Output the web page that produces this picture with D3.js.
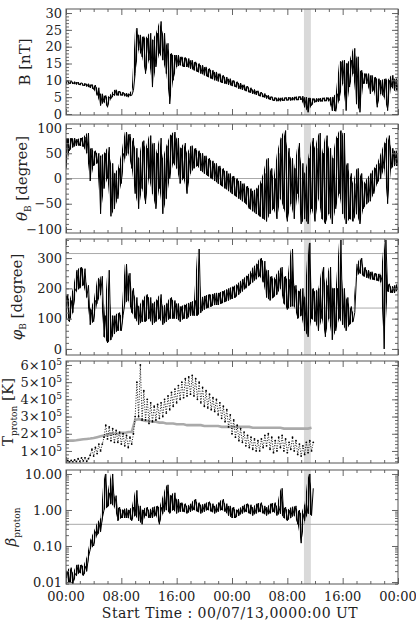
<!DOCTYPE html>
<html>
<head>
<meta charset="utf-8">
<script src="https://cdn.jsdelivr.net/npm/d3@7"></script>
<style>
  body { margin: 0; background: #fff; }
  svg { display: block; }
  text { font-family: "DejaVu Serif", serif; fill: #222; }
</style>
</head>
<body>
<script>
// hours between two samples of every series (series start at 00:00)
const STEP = 0.5;

const hourTicks = [0, 8, 16, 24, 32, 40, 48];
const hourLabels = ["00:00", "08:00", "16:00", "00:00", "08:00", "16:00", "00:00"];
const bandHours = [34.4, 35.4];

// B [nT], low / high value of each half hour
const bLo = [9.0, 9.0, 8.9, 8.8, 8.6, 8.4, 8.2, 7.8, 7.3, 5.5, 2.5, 3.5, 2.0, 4.5, 5.5, 5.5, 5.5, 5.3, 5.0, 5.5,
  12, 19, 17, 12, 16, 8, 14, 18, 16, 12, 3, 10, 14, 14.5, 14, 14, 13.5, 13, 12.5, 12,
  11.5, 11, 10.5, 10, 9.7, 9.3, 9, 8.7, 8.3, 8, 7.5, 7.2, 6.8, 6.4, 6.0, 5.7, 5.3, 5.0, 4.6, 4.2,
  3.9, 3.8, 3.8, 3.9, 4.0, 4.0, 4.1, 4.1, 4.2, 2.0, 0.5, 2.5, 3.5, 3.6, 3.7, 3.8, 3.8, 1.0, 0.8, 4.0,
  9, 1, 8, 12, 3, 0.5, 9, 9, 6, 7, 2, 6, 5, 1, 8, 7, 7];
const bHi = [10.0, 9.8, 9.6, 9.5, 9.3, 9.1, 9.0, 8.8, 8.6, 7.8, 6.0, 5.5, 5.0, 6.0, 7.2, 6.8, 6.5, 6.2, 6.0, 7.0,
  25.5, 23.5, 23, 22.5, 24, 22, 24, 27.5, 24, 21, 18, 17.5, 17.5, 17, 16.8, 16.5, 16, 15.5, 15, 14.5,
  14, 13.5, 13, 12.5, 12, 11.5, 11, 10.5, 10, 9.6, 9.2, 8.7, 8.3, 7.8, 7.3, 6.9, 6.5, 6.1, 5.6, 5.2,
  4.9, 4.8, 4.8, 4.9, 5.0, 5.0, 5.1, 5.2, 5.3, 5.0, 4.8, 4.6, 4.6, 4.7, 4.8, 4.9, 4.9, 5.0, 6.0, 15.5,
  16, 15, 16, 19.5, 17, 13, 12, 12, 11.5, 11, 10.5, 10, 10.5, 10, 11.5, 10.5, 8.5];

// theta_B [degree]
const thLo = [20, 55, 62, 65, 65, 63, 50, -5, 25, 30, -70, -20, 0, -75, -60, -40, -10, 40, 50, 20,
  -30, -60, -20, -50, 0, -30, -60, -20, -70, -40, 0, 30, 20, -10, 0, -30, 10, 20, 25, 15,
  10, 5, 0, -5, -10, -15, -20, -25, -30, -35, -40, -45, -50, -60, -65, -70, -75, -80, -85, -70,
  -60, -80, -40, -60, -85, -50, -80, -30, -90, -80, -90, -60, -85, -40, -80, -90, -70, -90, -60, -30,
  -70, -90, -80, -85, -70, -90, -60, -50, -45, -30, -10, 0, 20, -50, 20, 25, 25];
const thHi = [80, 80, 80, 78, 80, 82, 90, 60, 55, 50, 45, 50, 62, 30, 10, 20, 50, 92, 88, 80,
  60, 40, 75, 60, 85, 70, 50, 80, 40, 65, 85, 92, 80, 60, 70, 50, 65, 60, 55, 50,
  45, 40, 35, 30, 25, 20, 15, 10, 5, 0, -5, -10, -15, -20, -25, -20, -10, 10, 40, 20,
  0, 50, 80, 95, 60, 40, 20, 70, 30, 10, 40, 80, 60, 90, 50, 85, 60, 40, 80, 95,
  90, 30, 10, -10, 20, 10, -10, 0, 10, 20, 30, 50, 70, 85, 60, 55, 50];

// phi_B [degree]
const phLo = [100, 90, 120, 190, 200, 210, 170, 80, 90, 150, 180, 40, 20, 30, 50, 60, 60, 150, 160, 120,
  100, 80, 90, 90, 100, 80, 90, 100, 80, 90, 100, 100, 100, 90, 100, 100, 110, 110, 110, 120,
  130, 135, 140, 145, 145, 150, 155, 160, 165, 170, 180, 190, 200, 210, 220, 230, 240, 220, 170, 160,
  170, 180, 200, 150, 130, 140, 140, 100, 110, 60, 40, 100, 90, 60, 100, 40, 100, 30, 60, 100,
  80, 60, 80, 90, 240, 250, 240, 235, 230, 228, 225, 220, 0, 190, 185, 185, 195];
const phHi = [180, 160, 200, 260, 270, 265, 210, 130, 160, 230, 240, 110, 260, 110, 110, 120, 110, 280, 250, 200,
  170, 140, 160, 180, 170, 150, 160, 180, 140, 150, 170, 160, 150, 140, 145, 150, 155, 160, 330, 170,
  175, 180, 180, 185, 185, 190, 195, 200, 205, 210, 220, 230, 240, 250, 270, 280, 300, 290, 260, 240,
  230, 250, 270, 240, 230, 330, 210, 190, 200, 170, 350, 200, 190, 200, 270, 210, 270, 200, 200, 360,
  200, 170, 140, 120, 280, 300, 270, 260, 255, 250, 248, 245, 360, 215, 205, 210, 215];

// T_proton [10^5 K], measured (black) and expected (grey)
const tLo = [0.35, 0.36, 0.37, 0.38, 0.40, 0.42, 0.40, 0.75, 0.7, 0.85, 1.0, 1.8, 1.7, 1.6, 1.5, 1.5, 1.4, 1.3, 1.2, 1.4,
  3.0, 3.0, 2.8, 2.8, 2.6, 2.7, 2.8, 2.9, 3.0, 3.2, 3.4, 3.6, 3.8, 4.0, 4.1, 4.2, 4.3, 4.2, 4.0, 3.8,
  3.6, 3.5, 3.4, 3.3, 3.1, 2.9, 2.7, 2.4, 2.0, 1.8, 1.6, 1.5, 1.3, 1.2, 1.1, 1.0, 1.0, 1.2, 1.3, 1.1,
  0.9, 1.0, 1.2, 1.0, 0.9, 1.1, 1.0, 0.8, 0.7, 0.8, 0.9, 1.0];
const tHi = [0.45, 0.45, 0.48, 0.55, 0.6, 0.6, 0.55, 1.1, 1.2, 1.4, 1.4, 2.5, 2.4, 2.3, 2.2, 2.1, 2.0, 1.9, 1.8, 2.0,
  5.0, 6.0, 4.5, 4.0, 3.8, 3.6, 3.7, 3.8, 4.0, 4.2, 4.4, 4.6, 4.8, 5.0, 5.2, 5.3, 5.4, 5.2, 5.0, 4.7,
  4.5, 4.3, 4.1, 4.0, 3.8, 3.6, 3.4, 3.1, 2.8, 2.5, 2.3, 2.1, 1.9, 1.8, 1.7, 1.6, 1.7, 1.9, 2.0, 1.8,
  1.6, 1.8, 1.9, 1.7, 1.5, 1.8, 1.6, 1.4, 1.3, 1.5, 1.6, 1.5];
const tExp = [1.6, 1.6, 1.6, 1.62, 1.65, 1.68, 1.7, 1.72, 1.75, 1.8, 1.85, 1.9, 1.95, 2.0, 2.0, 2.0, 2.05, 2.05, 2.1, 2.1,
  2.8, 2.85, 2.8, 2.75, 2.75, 2.7, 2.7, 2.65, 2.65, 2.6, 2.6, 2.6, 2.55, 2.55, 2.55, 2.5, 2.5, 2.5, 2.5, 2.5,
  2.45, 2.45, 2.45, 2.45, 2.45, 2.4, 2.4, 2.4, 2.4, 2.4, 2.4, 2.4, 2.4, 2.4, 2.35, 2.35, 2.35, 2.35, 2.35, 2.35,
  2.35, 2.35, 2.35, 2.3, 2.3, 2.3, 2.3, 2.3, 2.3, 2.3, 2.3, 2.35];

// beta_proton
const beLo = [0.009, 0.01, 0.009, 0.015, 0.018, 0.015, 0.02, 0.08, 0.1, 0.2, 0.25, 1.0, 1.2, 1.5, 1.2, 0.5, 0.6, 0.6, 0.6, 0.5,
  0.7, 0.5, 0.4, 0.7, 0.6, 0.6, 0.7, 0.4, 0.8, 1.0, 0.8, 1.0, 0.8, 0.9, 0.9, 0.8, 0.9, 1.0, 0.9, 0.8,
  0.9, 1.0, 0.9, 0.8, 0.9, 1.0, 0.9, 0.7, 0.6, 0.6, 0.7, 0.8, 0.9, 0.8, 0.7, 0.8, 0.9, 0.8, 0.7, 0.8,
  0.9, 0.7, 0.8, 0.6, 0.5, 0.6, 0.7, 0.4, 0.12, 0.5, 0.8, 0.7];
const beHi = [0.02, 0.025, 0.018, 0.03, 0.03, 0.028, 0.05, 0.15, 0.25, 0.45, 0.6, 10, 3, 10, 2.5, 1.2, 1.0, 1.1, 1.0, 1.2,
  3.5, 1.3, 1.0, 1.2, 1.0, 1.2, 1.3, 1.2, 2.5, 5, 2.5, 3, 2, 1.6, 1.5, 1.3, 1.5, 2, 1.6, 1.4,
  1.5, 1.7, 1.5, 1.3, 1.6, 2.0, 1.5, 1.3, 1.2, 1.0, 1.1, 1.3, 1.5, 1.4, 1.2, 1.5, 1.6, 1.3, 1.2, 1.5,
  1.6, 1.3, 4, 1.2, 1.0, 1.2, 1.3, 1.0, 0.8, 1.5, 10, 4];

const bTicks = [0, 5, 10, 15, 20, 25, 30];
const thTicks = [-100, -50, 0, 50, 100];
const phTicks = [0, 100, 200, 300];
const tTicks = [1, 2, 3, 4, 5, 6];
const beTicks = [0.01, 0.1, 1, 10];
const beLabels = ["0.01", "0.10", "1.00", "10.00"];
const thRef = [0];
const phRef = [135, 315];
const beRef = [0.4];

const X0 = 66, X1 = 398;
const x = d3.scaleLinear().domain([0, 48]).range([X0, X1]);

const svg = d3.select("body").append("svg").attr("width", 416).attr("height", 627);

// vertical hatching mimics the dense 1-min samples between lo and hi
const pat = svg.append("defs").append("pattern")
  .attr("id", "hatch").attr("patternUnits", "userSpaceOnUse")
  .attr("width", 2).attr("height", 8);
pat.append("rect").attr("width", 1.1).attr("height", 8).attr("fill", "#000");

// lo,hi pairs become one jagged trace like the raw data
function zigzag(lo, hi) {
  const pts = [];
  lo.forEach((v, i) => {
    pts.push([i * STEP, v]);
    pts.push([i * STEP + STEP / 2, hi[i]]);
  });
  return pts;
}

const panels = [
  { top: 9, bottom: 115, y: d3.scaleLinear().domain([-0.3, 31.2]), major: bTicks, minor: d3.range(0, 31, 1),
    fmt: d => String(d), title: [{ t: "B [nT]" }], tx: 30, lo: bLo, hi: bHi, refs: [] },
  { top: 124, bottom: 233, y: d3.scaleLinear().domain([-108, 108]), major: thTicks, minor: d3.range(-100, 101, 10),
    fmt: d => d < 0 ? "\u2212" + Math.abs(d) : String(d), title: [{ t: "\u03b8", it: true }, { t: "B", sub: true }, { t: " [degree]" }],
    tx: 27, lo: thLo, hi: thHi, refs: thRef },
  { top: 239, bottom: 355, y: d3.scaleLinear().domain([-20, 363]), major: phTicks, minor: d3.range(0, 361, 20),
    fmt: d => String(d), title: [{ t: "\u03c6", it: true }, { t: "B", sub: true }, { t: " [degree]" }],
    tx: 22, lo: phLo, hi: phHi, refs: phRef },
  { top: 361, bottom: 463, y: d3.scaleLinear().domain([0.3, 6.23]), major: tTicks, minor: d3.range(0.4, 6.21, 0.2),
    fmt: null, title: [{ t: "T" }, { t: "proton", sub: true }, { t: " [K]" }],
    tx: 13, lo: tLo, hi: tHi, refs: [], dots: true },
  { top: 470, bottom: 584, y: d3.scaleLog().domain([0.0088, 12.9]), major: beTicks, minor: null,
    fmt: d => beLabels[beTicks.indexOf(d)], title: [{ t: "\u03b2", it: true }, { t: "proton", sub: true }],
    tx: 16, lo: beLo, hi: beHi, refs: beRef }
];

panels.forEach((p, k) => {
  p.y.range([p.bottom, p.top]);
  const y = p.y;
  const minor = p.minor || y.ticks().filter(d => beTicks.indexOf(d) < 0);

  const clip = "clip" + k;
  svg.append("clipPath").attr("id", clip)
    .append("rect").attr("x", X0).attr("y", p.top).attr("width", X1 - X0).attr("height", p.bottom - p.top);

  // shaded interval
  svg.append("rect")
    .attr("x", x(bandHours[0])).attr("y", p.top)
    .attr("width", x(bandHours[1]) - x(bandHours[0])).attr("height", p.bottom - p.top)
    .attr("fill", "#d9d9d9");

  p.refs.forEach(r => {
    svg.append("line")
      .attr("x1", X0).attr("x2", X1).attr("y1", y(r)).attr("y2", y(r))
      .attr("stroke", "#aaa").attr("stroke-width", 1);
  });

  const g = svg.append("g").attr("clip-path", `url(#${clip})`);
  const line = d3.line().x(d => x(d[0])).y(d => y(d[1]));
  const pts = zigzag(p.lo, p.hi);

  if (p.dots) {
    g.append("path").datum(tExp.map((v, i) => [i * STEP, v]))
      .attr("d", line).attr("fill", "none").attr("stroke", "#aaa").attr("stroke-width", 2.6);
    g.append("path").datum(pts).attr("d", line)
      .attr("fill", "none").attr("stroke", "#000").attr("stroke-width", 0.9).attr("stroke-dasharray", "1,1.6");
    g.selectAll("circle").data(pts).join("circle")
      .attr("cx", d => x(d[0])).attr("cy", d => y(d[1])).attr("r", 0.9).attr("fill", "#000");
  } else {
    const area = d3.area()
      .x((d, i) => x(i * STEP))
      .y0((d, i) => y(p.lo[i]))
      .y1(d => y(d));
    g.append("path").datum(p.hi).attr("d", area).attr("fill", "url(#hatch)");
    g.append("path").datum(pts).attr("d", line)
      .attr("fill", "none").attr("stroke", "#000").attr("stroke-width", 1);
  }

  // ticks on all four sides, pointing inwards
  const side = (axis, tx, ty, values, len) => {
    svg.append("g").attr("transform", `translate(${tx},${ty})`).attr("color", "#666")
      .call(axis.tickValues(values).tickSize(-len).tickFormat(""))
      .call(s => s.select(".domain").remove());
  };
  side(d3.axisLeft(y), X0, 0, minor, 3);
  side(d3.axisLeft(y), X0, 0, p.major, 6);
  side(d3.axisRight(y), X1, 0, minor, 3);
  side(d3.axisRight(y), X1, 0, p.major, 6);
  const minorH = d3.range(0, 49, 2).filter(h => h % 8 !== 0);
  side(d3.axisTop(x), 0, p.top, minorH, 3);
  side(d3.axisTop(x), 0, p.top, hourTicks, 6);
  side(d3.axisBottom(x), 0, p.bottom, minorH, 3);
  side(d3.axisBottom(x), 0, p.bottom, hourTicks, 6);

  svg.append("rect")
    .attr("x", X0).attr("y", p.top).attr("width", X1 - X0).attr("height", p.bottom - p.top)
    .attr("fill", "none").attr("stroke", "#555").attr("stroke-width", 1);

  // tick labels
  p.major.forEach(v => {
    const t = svg.append("text")
      .attr("x", X0 - 4).attr("y", y(v)).attr("dy", "0.36em")
      .attr("text-anchor", "end").attr("font-size", 13);
    if (p.fmt) {
      t.text(p.fmt(v));
    } else {
      t.append("tspan").text(v + "\u00d710");
      t.append("tspan").attr("dy", -5).attr("font-size", 9).text("5");
    }
  });

  // rotated axis title
  const tt = svg.append("text")
    .attr("transform", `translate(${p.tx},${(p.top + p.bottom) / 2}) rotate(-90)`)
    .attr("text-anchor", "middle").attr("font-size", 15);
  let shift = 0;
  p.title.forEach(part => {
    const s = tt.append("tspan").text(part.t);
    if (part.it) s.attr("font-style", "italic");
    if (part.sub) { s.attr("font-size", 9).attr("dy", 4); shift = 4; }
    else if (shift) { s.attr("dy", -shift); shift = 0; }
  });
});

hourTicks.forEach((h, i) => {
  svg.append("text")
    .attr("x", x(h)).attr("y", 601)
    .attr("text-anchor", "middle").attr("font-size", 13)
    .text(hourLabels[i]);
});

svg.append("text")
  .attr("x", (X0 + X1) / 2 - 2).attr("y", 618)
  .attr("text-anchor", "middle").attr("font-size", 14).attr("letter-spacing", 0.5)
  .text("Start Time : 00/07/13,0000:00 UT");
</script>
</body>
</html>
